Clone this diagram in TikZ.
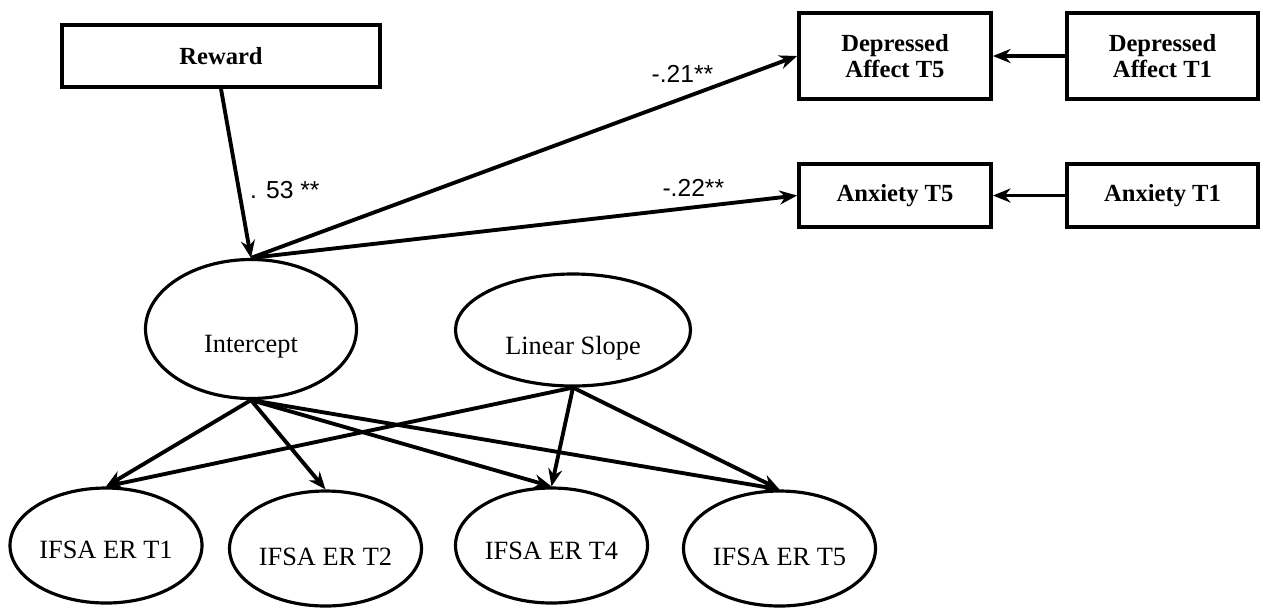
\documentclass[tikz,border=0pt]{standalone}
\usepackage{fontspec}
\setmainfont{Liberation Serif}
\setsansfont{Liberation Sans}
\usepackage{tikz}
\usetikzlibrary{arrows.meta}
\usetikzlibrary{shapes}
\usetikzlibrary{positioning}

\begin{document}
\begin{tikzpicture}[
            >={Stealth[length=10pt, width=8pt]},
            observed/.style={rectangle, draw, line width=2.2pt, align=center, inner sep=2pt,
                            font=\fontsize{14}{15}\selectfont\bfseries},
            latent/.style={ellipse, draw, line width=1.8pt, inner sep=0pt,
                            minimum width=3.84cm, minimum height=2.3cm},
            ltext/.style={font=\fontsize{15}{17}\selectfont},
            regline/.style={->, line width=2.2pt},
            coef/.style={font=\sffamily\fontsize{14}{16}\selectfont, inner sep=1pt},
        ]

        \useasboundingbox (0,0) rectangle (25.24,-12.14);

        % Predictor (top left)
        \node[observed, minimum width=6.36cm, minimum height=1.24cm] (reward) at (4.42,-1.12) {Reward};

        % Outcomes at T5 and their T1 controls (right)
        \node[observed, minimum width=3.84cm, minimum height=1.72cm] (depT5) at (17.9,-1.12) {Depressed\\Affect T5};
        \node[observed, minimum width=3.82cm, minimum height=1.72cm] (depT1) at (23.25,-1.12) {Depressed\\Affect T1};
        \node[observed, minimum width=3.84cm, minimum height=1.26cm] (anxT5) at (17.9,-3.91) {Anxiety T5};
        \node[observed, minimum width=3.82cm, minimum height=1.26cm] (anxT1) at (23.25,-3.91) {Anxiety T1};

        % Growth factors
        \node[latent, minimum width=4.22cm, minimum height=2.78cm,
              label={[ltext, yshift=-0.36cm]center:Intercept}] (intercept) at (5.02,-6.58) {};
        \node[latent, minimum width=4.7cm, minimum height=2.24cm,
              label={[ltext, yshift=-0.36cm]center:Linear Slope}] (slope) at (11.46,-6.6) {};

        % Repeated measures (bottom row)
        \node[latent, label={[ltext, yshift=-0.09cm]center:IFSA ER T1}] (er1) at (2.12,-10.91) {};
        \node[latent, label={[ltext, yshift=-0.17cm]center:IFSA ER T2}] (er2) at (6.51,-10.97) {};
        \node[latent, label={[ltext, yshift=-0.11cm]center:IFSA ER T4}] (er4) at (11.03,-10.91) {};
        \node[latent, label={[ltext, yshift=-0.17cm]center:IFSA ER T5}] (er5) at (15.59,-10.97) {};

        % Structural paths
        \draw[regline] (reward.south) -- (intercept.north) node[coef, pos=0.6, right=1.5mm] {. 53 **};
        \draw[regline] (intercept.north) -- (depT5.west) node[coef, pos=0.79, above=2.5mm] {-.21**};
        \draw[regline] (intercept.north) -- (anxT5.west) node[coef, pos=0.81, above=1.5mm] {-.22**};
        \draw[regline] (depT1) -- (depT5);
        \draw[regline] (anxT1) -- (anxT5);

        % Loadings of the growth factors
        \draw[regline] (intercept.south) -- (er1.north);
        \draw[regline] (intercept.south) -- (er2.north);
        \draw[regline] (intercept.south) -- (er4.north);
        \draw[regline] (intercept.south) -- (er5.north);
        \draw[regline] (slope.south) -- (er1.north);
        \draw[regline] (slope.south) -- (er4.north);
        \draw[regline] (slope.south) -- (er5.north);

        \end{tikzpicture}
\end{document}
